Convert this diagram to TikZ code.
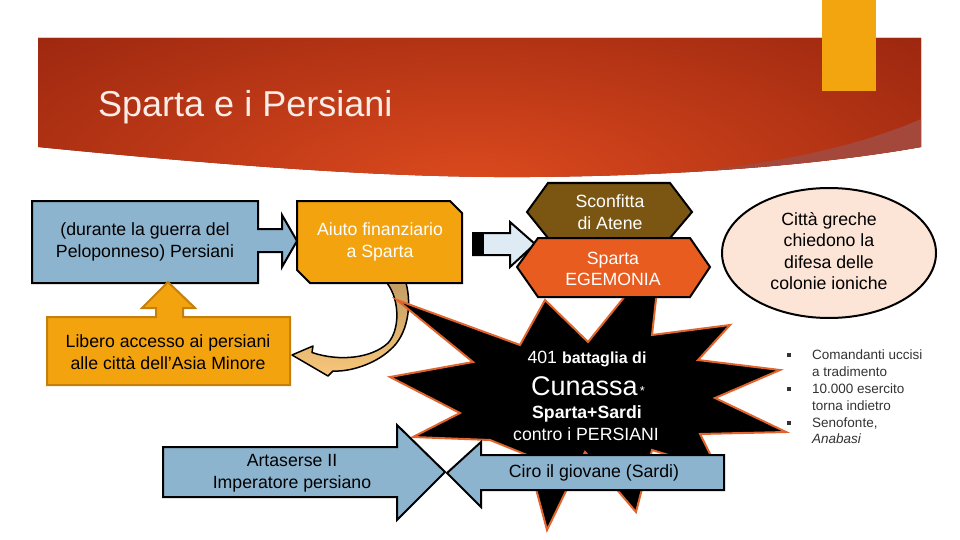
\documentclass[tikz,border=0pt]{standalone}
\usepackage{fontspec}
\setmainfont{Liberation Sans}
\definecolor{boxblue}{RGB}{141,180,206}
\definecolor{boxorange}{RGB}{243,163,14}
\definecolor{orangeedge}{RGB}{196,128,10}
\definecolor{hexbrown}{RGB}{122,86,18}
\definecolor{hexred}{RGB}{232,92,32}
\definecolor{ellfill}{RGB}{252,228,214}
\definecolor{arrowlight}{RGB}{222,234,244}
\definecolor{staredge}{RGB}{226,100,45}
\definecolor{curvelight}{RGB}{248,198,122}
\definecolor{curvedark}{RGB}{196,158,100}
\definecolor{bannerlight}{RGB}{220,74,30}
\definecolor{bannerdark}{RGB}{125,22,8}
\definecolor{bandcolor}{RGB}{165,72,60}
\definecolor{tabcolor}{RGB}{243,165,15}
\definecolor{titlecolor}{RGB}{250,236,230}
\tikzset{
  shapeline/.style={draw=black, line width=2pt, line join=miter},
  bodytext/.style={font=\fontsize{17.7}{21.5}\selectfont, align=center, inner sep=0pt},
  startext/.style={text=white, anchor=base, inner sep=0pt},
  burst/.style={line width=2pt, draw=staredge, fill=black, line join=miter, miter limit=25},
}
\begin{document}
\begin{tikzpicture}[x=1pt,y=-1pt]
\useasboundingbox (0,0) rectangle (960,540);
\fill[white] (0,0) rectangle (960,540);

% title banner
\begin{scope}
  \clip (38,38) -- (921,38) -- (921,147) .. controls (820,165) and (680,176) .. (530,177) .. controls (400,178) and (250,168) .. (38,147) -- cycle;
  \fill[bannerdark] (0,0) rectangle (960,200);
  \shade[inner color=bannerlight, outer color=bannerdark] (470,185) ellipse [x radius=900pt, y radius=330pt];
  \fill[bandcolor] (620,177) .. controls (760,170) and (860,146) .. (921,119) -- (930,119) -- (930,200) -- (620,200) -- cycle;
\end{scope}
\fill[tabcolor] (822,0) rectangle (876,91);
\node[anchor=base west, text=titlecolor, font=\fontsize{36}{40}\selectfont, inner sep=0pt] (title) at (98,117) {Sparta e i Persiani};

% Persiani box with right arrow
\draw[shapeline, fill=boxblue] (32,201) -- (258,201) -- (258,229) -- (282,229) -- (282,215) -- (297,241) -- (282,267) -- (282,252) -- (258,252) -- (258,283) -- (32,283) -- cycle;
\node[bodytext] (persiani) at (145,242) {(durante la guerra del\\Peloponneso) Persiani};

% Aiuto box (snipped corners)
\draw[shapeline, fill=boxorange] (297,201) -- (450,201) -- (462,213) -- (462,283) -- (310,283) -- (297,270) -- cycle;
\node[bodytext, text=white] (aiuto) at (380,242) {Aiuto finanziario\\a Sparta};

% Libero box with up arrow
\draw[draw=orangeedge, line width=2pt, fill=boxorange] (47,317) -- (156,317) -- (156,308) -- (142,308) -- (168,282) -- (195,308) -- (183,308) -- (183,317) -- (290,317) -- (290,385) -- (47,385) -- cycle;
\node[bodytext] (libero) at (168,352) {Libero accesso ai persiani\\alle città dell’Asia Minore};

% small arrow
\draw[shapeline, fill=arrowlight] (473,233) -- (510,233) -- (510,222) -- (535,244) -- (510,267) -- (510,255) -- (473,255) -- cycle;
\fill[black] (473,233) rectangle (484,255);

% curved arrow
\draw[line width=1.5pt, top color=curvedark, bottom color=curvelight, line join=round]
  (292,355) -- (313,346) -- (312,352.5)
  .. controls (340,362) and (372,358) .. (388,343)
  .. controls (400,330) and (400,300) .. (387,283)
  -- (406,283)
  .. controls (412,305) and (408,335) .. (390,350)
  .. controls (375,364) and (350,372) .. (333,371)
  -- (328,376) -- cycle;

% starburst
\coordinate (b1) at (397,300);
\coordinate (b2) at (520,345);
\coordinate (b3) at (545,300);
\coordinate (b4) at (588,342);
\coordinate (b5) at (630,290);
\coordinate (b6) at (657,290);
\coordinate (b7) at (652,335);
\coordinate (b8) at (730,325);
\coordinate (b9) at (698,360);
\coordinate (b10) at (780,370);
\coordinate (b11) at (715,398);
\coordinate (b12) at (786,432);
\coordinate (b13) at (700,434);
\coordinate (b14) at (718,470);
\coordinate (b15) at (652,450);
\coordinate (b16) at (636,512);
\coordinate (b17) at (585,452);
\coordinate (b18) at (547,530);
\coordinate (b19) at (527,455);
\coordinate (b20) at (490,440);
\coordinate (b21) at (413,437);
\coordinate (b22) at (460,413);
\coordinate (b23) at (390,377);
\coordinate (b24) at (473,362);
\draw[burst] (b1) -- (b2) -- (b3) -- (b4) -- (b5) -- (b6) -- (b7) -- (b8) -- (b9) -- (b10) -- (b11) -- (b12) -- (b13) -- (b14) -- (b15) -- (b16) -- (b17) -- (b18) -- (b19) -- (b20) -- (b21) -- (b22) -- (b23) -- (b24) -- cycle;

% hexagons
\draw[shapeline, fill=hexbrown] (527,212) -- (548,183) -- (670,183) -- (692,212) -- (670,238) -- (548,238) -- cycle;
\draw[shapeline, fill=hexred] (517,267) -- (538,238) -- (690,238) -- (710,267) -- (690,297) -- (538,297) -- cycle;
\node[bodytext, text=white] (sconfitta) at (610,212) {Sconfitta\\di Atene};
\node[bodytext, text=white] (egemonia) at (613,269) {Sparta\\EGEMONIA};

% ellipse
\draw[shapeline, fill=ellfill] (829,253) ellipse [x radius=107pt, y radius=65pt];
\node[bodytext] (citta) at (829,251) {Città greche\\chiedono la\\difesa delle\\colonie ioniche};

% Ciro arrow (left)
\draw[shapeline, fill=boxblue] (447,473) -- (481,442) -- (481,455) -- (724,455) -- (724,490) -- (481,490) -- (481,507) -- cycle;
\node[bodytext] (ciro) at (594,473) {Ciro il giovane (Sardi)};

% Artaserse arrow (right)
\draw[shapeline, fill=boxblue] (163,447) -- (397,447) -- (397,425) -- (445,472) -- (397,520) -- (397,497) -- (163,497) -- cycle;
\node[bodytext] (artaserse) at (292,473) {Artaserse II\\Imperatore persiano};

% star text
\node[startext] (s1) at (587,363) {\fontsize{17.7}{20}\selectfont 401 \fontsize{16}{20}\selectfont\bfseries battaglia di};
\node[startext] (s2) at (588,395) {\fontsize{27}{30}\selectfont Cunassa\hspace{2pt}\fontsize{13}{15}\selectfont *};
\node[startext] (s3) at (587,418) {\fontsize{17.7}{20}\selectfont\bfseries Sparta+Sardi};
\node[startext] (s4) at (586,440) {\fontsize{17.7}{20}\selectfont contro i PERSIANI};

% bullet list
\node[anchor=north west, inner sep=0pt, text=black!80, font=\fontsize{13.5}{16.8}\selectfont, align=left] (bullets) at (787,348)
{\begin{tabular}{@{}p{25pt}@{}l@{}}
\rule[2.5pt]{4pt}{4pt} & Comandanti uccisi\\
 & a tradimento\\
\rule[2.5pt]{4pt}{4pt} & 10.000 esercito\\
 & torna indietro\\
\rule[2.5pt]{4pt}{4pt} & Senofonte,\\
 & \itshape Anabasi
\end{tabular}};
\end{tikzpicture}
\end{document}
